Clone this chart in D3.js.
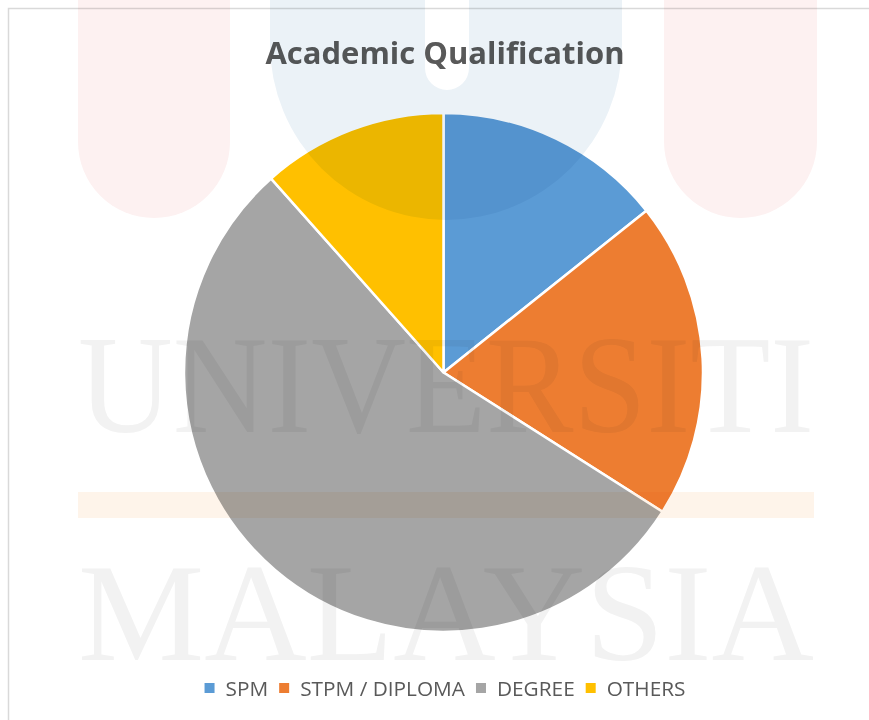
<!DOCTYPE html>
<html>
<head>
<meta charset="utf-8">
<script src="https://cdn.jsdelivr.net/npm/d3@7"></script>
<style>
  body { margin: 0; background: #fff; }
  svg { display: block; }
  .mark { mix-blend-mode: multiply; }
  .word {
    position: absolute;
    left: 78px;
    margin: 0;
    white-space: nowrap;
    font-family: 'Liberation Serif', serif;
    font-size: 139px;
    line-height: 104px;
    color: #f2f2f2;
    transform-origin: 0 0;
    mix-blend-mode: multiply;
  }
</style>
</head>
<body>
<script>
// chart data
var categories = ["SPM", "STPM / DIPLOMA", "DEGREE", "OTHERS"];
var counts = [21, 29, 80, 17];
var colors = ["#5b9bd5", "#ed7d31", "#a5a5a5", "#ffc000"];
var title = "Academic Qualification";
var watermarkWords = ["UNIVERSITI", "MALAYSIA"];

var W = 869, H = 720;
var cx = 443.5, cy = 372.5, radius = 259.5;

var svg = d3.select("body").append("svg")
    .attr("width", W)
    .attr("height", H);

// chart frame
svg.append("path")
    .attr("d", "M8.5," + H + "V8.5H" + W)
    .attr("fill", "none")
    .attr("stroke", "#d9d9d9")
    .attr("stroke-width", 1.5);

// title
svg.append("text")
    .attr("x", 445)
    .attr("y", 64)
    .attr("text-anchor", "middle")
    .style("font-family", "'Open Sans', sans-serif")
    .style("font-weight", "bold")
    .style("font-size", "31px")
    .attr("fill", "#595959")
    .text(title);

// pie
var pie = d3.pie().sort(null).value(function (d) { return d; });
var arc = d3.arc().innerRadius(0).outerRadius(radius);

var pieG = svg.append("g")
    .attr("transform", "translate(" + cx + "," + cy + ")");

pieG.selectAll("path")
    .data(pie(counts))
    .enter()
    .append("path")
    .attr("d", arc)
    .attr("fill", function (d, i) { return colors[i]; })
    .attr("stroke", "#fff")
    .attr("stroke-width", 2.5)
    .attr("stroke-linejoin", "round");

// legend
var legend = svg.append("g");
var items = legend.selectAll("g.item")
    .data(categories)
    .enter()
    .append("g")
    .attr("class", "item");

items.append("rect")
    .attr("width", 10)
    .attr("height", 10)
    .attr("y", 683)
    .attr("fill", function (d, i) { return colors[i]; });

items.append("text")
    .attr("y", 696)
    .style("font-family", "'Open Sans', sans-serif")
    .style("font-size", "20.8px")
    .attr("fill", "#595959")
    .text(function (d) { return d; });

var xPos = 0;
items.each(function (d, i) {
    var txt = d3.select(this).select("text");
    var w = txt.node().getComputedTextLength();
    d3.select(this).select("rect").attr("x", xPos);
    txt.attr("x", xPos + 21);
    xPos += 21 + w + 11;
});
var total = xPos - 11;
legend.attr("transform", "translate(" + (445 - total / 2) + ",0)");

// faded university watermark laid over the chart
var wm = svg.append("g").attr("class", "mark");

function pill(x0, x1, bottom, fill) {
    var r = (x1 - x0) / 2;
    return wm.append("path")
        .attr("d", "M" + x0 + ",0V" + (bottom - r) +
            "A" + r + "," + r + " 0 0 0 " + x1 + "," + (bottom - r) + "V0Z")
        .attr("fill", fill);
}
pill(78, 230, 218, "#fdf1f1");
pill(664, 817, 218, "#fdf1f1");
// blue U with a narrow slot in the middle
var bx0 = 270, bx1 = 622, br = (bx1 - bx0) / 2;
wm.append("path")
    .attr("d", "M" + bx0 + ",0V" + (220 - br) +
        "A" + br + "," + br + " 0 0 0 " + bx1 + "," + (220 - br) + "V0H469V68" +
        "A22,22 0 0 1 425,68V0Z")
    .attr("fill", "#ebf2f7");

wm.append("rect")
    .attr("x", 78).attr("y", 492)
    .attr("width", 736).attr("height", 26)
    .attr("fill", "#fef4ea");

// watermark words: baseline sits ~99px below the top of a 104px line box
var wordBaselines = [432, 660];
d3.select("body").selectAll("div.word")
    .data(watermarkWords)
    .enter()
    .append("div")
    .attr("class", "word")
    .style("top", function (d, i) { return (wordBaselines[i] - 99) + "px"; })
    .text(function (d) { return d; })
    .each(function () {
        var w = this.getBoundingClientRect().width;
        d3.select(this).style("transform", "scaleX(" + (736 / w) + ")");
    });
</script>
</body>
</html>
